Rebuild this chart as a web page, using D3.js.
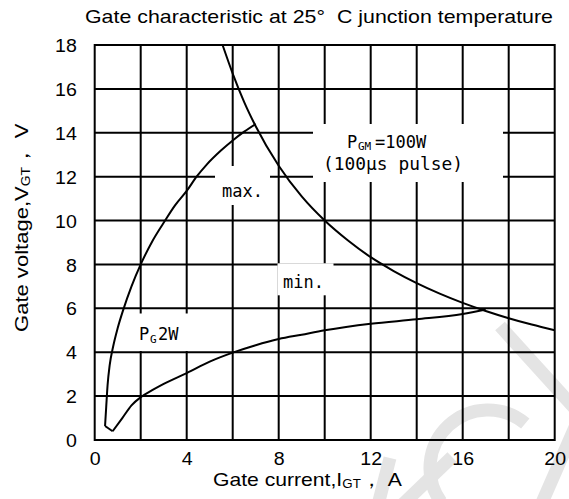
<!DOCTYPE html>
<html><head><meta charset="utf-8">
<script src="https://cdn.jsdelivr.net/npm/d3@7"></script>
<style>
html,body{margin:0;padding:0;background:#fff;}
svg{display:block;}
</style></head>
<body>
<script>
// ---- data ----
const xTicks = [0, 4, 8, 12, 16, 20];
const yTicks = [0, 2, 4, 6, 8, 10, 12, 14, 16, 18];
const xGrid = [2, 4, 6, 8, 10, 12, 14, 16, 18];
const yGrid = [2, 4, 6, 8, 10, 12, 14, 16];

// P_GM = 100 W limit (current A, voltage V)
const pgmI = [5.56, 6, 6.5, 7, 8, 9, 10, 11, 12, 13, 14, 15, 16, 17, 18, 19, 20];
const pgmV = [18, 16.7, 15.4, 14.3, 12.5, 11.1, 10, 9.1, 8.33, 7.7, 7.15, 6.67, 6.25, 5.88, 5.55, 5.26, 5];

// max. curve
const maxI = [0.45, 0.5, 0.56, 0.65, 0.8, 1.0, 1.24, 1.6, 2.0, 2.5, 3.06, 3.5, 4.0, 4.43, 4.87, 5.5, 6.0, 6.5, 7.0];
const maxV = [0.64, 1.5, 2.5, 3.4, 4.25, 5.1, 5.93, 7.0, 8.0, 9.05, 10.0, 10.7, 11.35, 12.0, 12.55, 13.2, 13.65, 14.05, 14.4];

// min. curve
const minI = [0.45, 0.78, 1.2, 1.6, 2.0, 2.5, 3.0, 4.0, 5.0, 6.0, 7.0, 8.0, 9.0, 10.0, 12.0, 14.0, 16.0, 17.0];
const minV = [0.64, 0.4, 1.0, 1.58, 1.95, 2.27, 2.56, 3.05, 3.57, 3.98, 4.32, 4.6, 4.8, 5.0, 5.3, 5.5, 5.74, 5.95];

// ---- drawing ----
const W = 569, H = 499;
const svg = d3.select("body").append("svg").attr("width", W).attr("height", H);

const x = d3.scaleLinear().domain([0, 20]).range([94.7, 554.7]);
const y = d3.scaleLinear().domain([0, 18]).range([440, 45]);

const sans = "Liberation Sans, Arial, sans-serif";
const mono = "DejaVu Sans Mono, monospace";

// watermark (light grey strokes)
const wm = svg.append("g").attr("fill", "none").attr("stroke", "#e4e4e4").attr("stroke-width", 13);
const p = d3.path();
p.arc(488, 468, 58, -50 * Math.PI / 180, 144 * Math.PI / 180, true);
wm.append("path").attr("d", p.toString());
wm.append("line").attr("x1", 500).attr("y1", 326).attr("x2", 578).attr("y2", 412);
wm.append("line").attr("x1", 576).attr("y1", 425).attr("x2", 541).attr("y2", 505);
wm.append("line").attr("x1", 402).attr("y1", 505).attr("x2", 452).attr("y2", 457);
wm.append("line").attr("x1", 378).attr("y1", 505).attr("x2", 390).attr("y2", 458);

// grid
const grid = svg.append("g").attr("stroke", "#000").attr("stroke-width", 2);
grid.selectAll("line.v").data(xGrid).join("line").attr("class", "v")
  .attr("x1", d => x(d)).attr("x2", d => x(d)).attr("y1", y(0)).attr("y2", y(18));
grid.selectAll("line.h").data(yGrid).join("line").attr("class", "h")
  .attr("y1", d => y(d)).attr("y2", d => y(d)).attr("x1", x(0)).attr("x2", x(20));
svg.append("rect").attr("x", x(0)).attr("y", y(18)).attr("width", x(20) - x(0)).attr("height", y(0) - y(18))
  .attr("fill", "none").attr("stroke", "#000").attr("stroke-width", 2);

// white label boxes that cut the grid
const boxes = [
  [215, 166, 55, 39],
  [313, 124, 190, 58],
  [277.5, 263.3, 56, 32],
  [128, 313.5, 60, 37.5]
];
svg.append("g").selectAll("rect").data(boxes).join("rect")
  .attr("x", d => d[0]).attr("y", d => d[1]).attr("width", d => d[2]).attr("height", d => d[3])
  .attr("fill", "#fff");

// curves
const mk = (I, V) => I.map((d, i) => [d, V[i]]);
const lineM = d3.line().x(d => x(d[0])).y(d => y(d[1])).curve(d3.curveMonotoneX);
const lineL = d3.line().x(d => x(d[0])).y(d => y(d[1])).curve(d3.curveLinear);
const curves = svg.append("g").attr("fill", "none").attr("stroke", "#000").attr("stroke-width", 2)
  .attr("stroke-linejoin", "round");
curves.append("path").attr("d", lineM(mk(pgmI, pgmV)));
curves.append("path").attr("d", lineM(mk(maxI, maxV)));
const minPts = mk(minI, minV);
curves.append("path").attr("d", lineL(minPts.slice(0, 2)));
curves.append("path").attr("d", lineM(minPts.slice(1)));

// axes (labels only)
const ax = svg.append("g").attr("transform", `translate(0,${y(0)})`)
  .call(d3.axisBottom(x).tickValues(xTicks).tickSize(0).tickPadding(13).tickFormat(d3.format("d")));
const ay = svg.append("g").attr("transform", `translate(${x(0)},0)`)
  .call(d3.axisLeft(y).tickValues(yTicks).tickSize(0).tickPadding(16).tickFormat(d3.format("d")));
[ax, ay].forEach(g => {
  g.select(".domain").remove();
  g.selectAll("text").attr("font-family", sans).attr("font-size", 17.5).attr("fill", "#000")
    .attr("transform", "scale(1.12,1)");
});
ay.selectAll("text").attr("dy", "0.38em");

// helper: stretch a text horizontally to a target width
function fit(sel, target) {
  const w = sel.node().getComputedTextLength();
  return target / w;
}

// title
const tg = svg.append("g");
const tt = tg.append("text").attr("font-family", sans).attr("font-size", 18)
  .text("Gate characteristic at 25°\u00A0\u00A0C junction temperature");
tg.attr("transform", `translate(85,23) scale(${fit(tt, 468)},1)`);

// x title
const xg = svg.append("g");
const xt = xg.append("text").attr("font-family", sans).attr("font-size", 19);
xt.append("tspan").text("Gate current,I");
xt.append("tspan").attr("font-size", 12).attr("dy", 2).text("GT");
xt.append("tspan").attr("dy", -2).text("，\u00A0A");
xg.attr("transform", `translate(213,486) scale(${fit(xt, 189)},1)`);

// y title
const yg = svg.append("g");
const yt = yg.append("text").attr("font-family", sans).attr("font-size", 19);
yt.append("tspan").text("Gate voltage,V");
yt.append("tspan").attr("font-size", 12).attr("dy", 2).text("GT");
yt.append("tspan").attr("dy", -2).text("，\u00A0V");
yg.attr("transform", `translate(28,332) rotate(-90) scale(${fit(yt, 208)},1)`);

// inner labels
const lab = svg.append("g").attr("font-family", mono).attr("font-size", 17).attr("fill", "#000");
lab.append("text").attr("x", 222).attr("y", 197).text("max.");
lab.append("text").attr("x", 283).attr("y", 288).text("min.");
lab.append("text").attr("x", 139).attr("y", 340).text("P");
lab.append("text").attr("x", 150).attr("y", 343).attr("font-size", 11).text("G");
lab.append("text").attr("x", 158).attr("y", 340).text("2W");
lab.append("text").attr("x", 347).attr("y", 148).text("P");
lab.append("text").attr("x", 358).attr("y", 150).attr("font-size", 11).text("GM");
lab.append("text").attr("x", 375).attr("y", 148).text("=100W");
lab.append("text").attr("x", 323).attr("y", 170).attr("textLength", 140).attr("lengthAdjust", "spacingAndGlyphs")
  .text("(100µs pulse)");
</script>
</body></html>
